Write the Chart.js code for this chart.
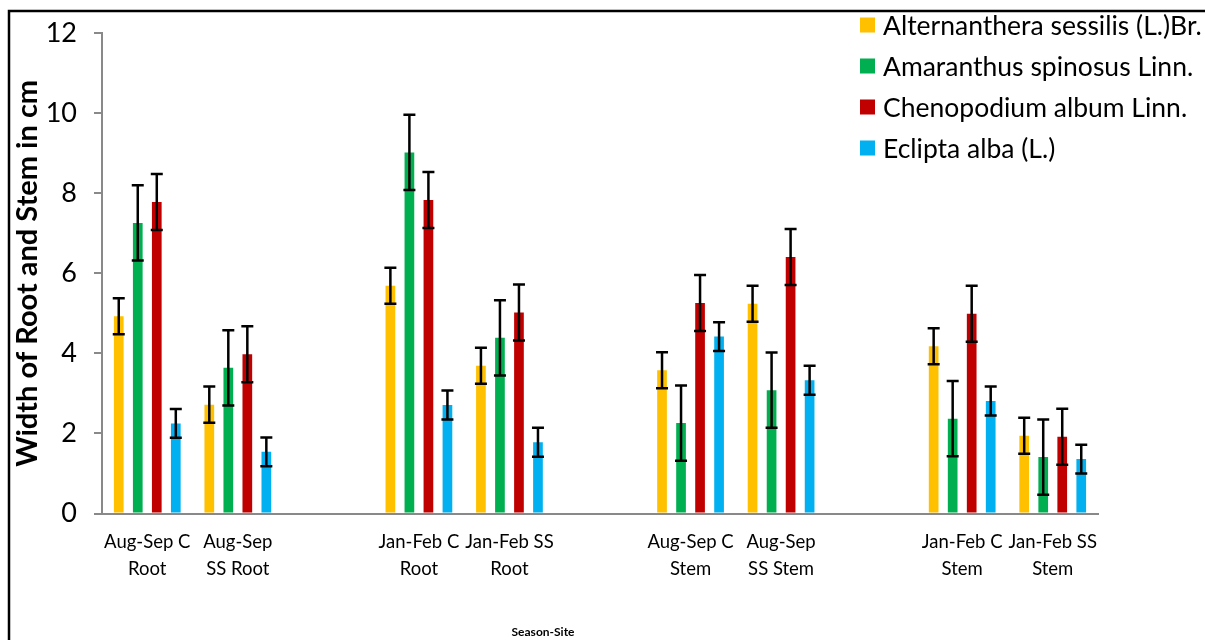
<!DOCTYPE html>
<html>
<head>
<meta charset="utf-8">
<script src="https://cdn.jsdelivr.net/npm/chart.js@4.4.1/dist/chart.umd.min.js"></script>
<style>
  html, body { margin: 0; padding: 0; background: #fff; }
  #wrap { position: relative; width: 1205px; height: 640px; }
</style>
</head>
<body>
<div id="wrap"><canvas id="widthChart" width="1205" height="640"></canvas></div>
<script>
// categories (empty slots are the gaps between season groups)
const categories = [
    ['Aug-Sep C', 'Root'], ['Aug-Sep', 'SS Root'], '',
    ['Jan-Feb C', 'Root'], ['Jan-Feb SS', 'Root'], '',
    ['Aug-Sep C', 'Stem'], ['Aug-Sep', 'SS Stem'], '',
    ['Jan-Feb C', 'Stem'], ['Jan-Feb SS', 'Stem']
];
const speciesNames = ['Alternanthera sessilis (L.)Br.', 'Amaranthus spinosus Linn.', 'Chenopodium album Linn.', 'Eclipta alba (L.)'];

const alternanthera = [4.93, 2.72, null, 5.69, 3.69, null, 3.58, 5.24, null, 4.18, 1.94];
const amaranthus    = [7.26, 3.64, null, 9.02, 4.39, null, 2.26, 3.08, null, 2.37, 1.41];
const chenopodium   = [7.78, 3.98, null, 7.83, 5.02, null, 5.26, 6.41, null, 4.99, 1.92];
const eclipta       = [2.25, 1.54, null, 2.71, 1.78, null, 4.42, 3.33, null, 2.81, 1.36];

const alternantheraErr = [0.45, 0.45, null, 0.45, 0.45, null, 0.45, 0.45, null, 0.45, 0.45];
const amaranthusErr    = [0.94, 0.94, null, 0.94, 0.94, null, 0.94, 0.94, null, 0.94, 0.94];
const chenopodiumErr   = [0.70, 0.70, null, 0.70, 0.70, null, 0.70, 0.70, null, 0.70, 0.70];
const ecliptaErr       = [0.36, 0.36, null, 0.36, 0.36, null, 0.36, 0.36, null, 0.36, 0.36];

const yTicks = [0, 2, 4, 6, 8, 10, 12];

const colors = ['#FFC000', '#00B050', '#C00000', '#00B0F0'];
const seriesValues = [alternanthera, amaranthus, chenopodium, eclipta];
const seriesErrors = [alternantheraErr, amaranthusErr, chenopodiumErr, ecliptaErr];

const axisGray = '#898989';

// error bars, frame, legend and x title
const extras = {
    id: 'extras',
    beforeDraw(chart) {
        const ctx = chart.ctx;
        ctx.save();
        ctx.strokeStyle = '#000';
        ctx.lineWidth = 2.5;
        ctx.beginPath();
        ctx.moveTo(9, 640);
        ctx.lineTo(9, 11);
        ctx.lineTo(1205, 11);
        ctx.stroke();
        ctx.restore();
    },
    afterDatasetsDraw(chart) {
        const ctx = chart.ctx;
        const y = chart.scales.y;
        ctx.save();
        ctx.strokeStyle = '#000';
        ctx.lineWidth = 2.5;
        chart.data.datasets.forEach((ds, i) => {
            const meta = chart.getDatasetMeta(i);
            meta.data.forEach((bar, j) => {
                const v = ds.data[j];
                const e = seriesErrors[i][j];
                if (v == null || e == null) return;
                const top = y.getPixelForValue(v + e);
                const bot = y.getPixelForValue(v - e);
                ctx.beginPath();
                ctx.moveTo(bar.x, top); ctx.lineTo(bar.x, bot);
                ctx.moveTo(bar.x - 6, top); ctx.lineTo(bar.x + 6, top);
                ctx.moveTo(bar.x - 6, bot); ctx.lineTo(bar.x + 6, bot);
                ctx.stroke();
            });
        });
        ctx.restore();
    },
    afterDraw(chart) {
        const ctx = chart.ctx;
        ctx.save();
        ctx.font = '26.5px Lato';
        ctx.textBaseline = 'middle';
        chart.data.datasets.forEach((ds, i) => {
            const cy = 25 + i * 41;
            ctx.fillStyle = ds.backgroundColor;
            ctx.fillRect(860, cy - 7.5, 15, 15);
            ctx.fillStyle = '#000';
            ctx.fillText(ds.label, 883, cy + 1);
        });
        ctx.font = 'bold 12px Lato';
        ctx.textAlign = 'center';
        ctx.fillText('Season-Site', 543, 632);
        ctx.restore();
    }
};

new Chart(document.getElementById('widthChart').getContext('2d'), {
    type: 'bar',
    data: {
        labels: categories,
        datasets: speciesNames.map((name, i) => ({
            label: name,
            data: seriesValues[i],
            backgroundColor: colors[i],
            borderWidth: 0,
            categoryPercentage: 0.84,
            barPercentage: 0.51
        }))
    },
    options: {
        responsive: false,
        animation: false,
        layout: { padding: { left: 0, top: 32, right: 107, bottom: 0 } },
        plugins: {
            legend: { display: false },
            tooltip: { enabled: false }
        },
        scales: {
            x: {
                afterFit: (scale) => { scale.height = 126.5; },
                grid: { display: false, drawTicks: false },
                border: { color: axisGray, width: 2 },
                ticks: {
                    color: '#000',
                    padding: 15,
                    maxRotation: 0,
                    autoSkip: false,
                    font: { family: 'Lato', size: 18.5, lineHeight: 1.46 }
                }
            },
            y: {
                min: 0,
                max: 12,
                afterFit: (scale) => { scale.width = 102; },
                afterBuildTicks: (scale) => { scale.ticks = yTicks.map(v => ({ value: v })); },
                grid: { drawOnChartArea: false, drawTicks: true, tickLength: 8, color: axisGray, lineWidth: 2 },
                border: { color: axisGray, width: 2 },
                ticks: {
                    color: '#000',
                    padding: 17,
                    font: { family: 'Lato', size: 27 }
                },
                title: {
                    display: true,
                    text: 'Width of Root and Stem in cm',
                    color: '#000',
                    padding: { top: 10, bottom: 0 },
                    font: { family: 'Lato', size: 29, weight: 'bold' }
                }
            }
        }
    },
    plugins: [extras]
});
</script>
</body>
</html>
